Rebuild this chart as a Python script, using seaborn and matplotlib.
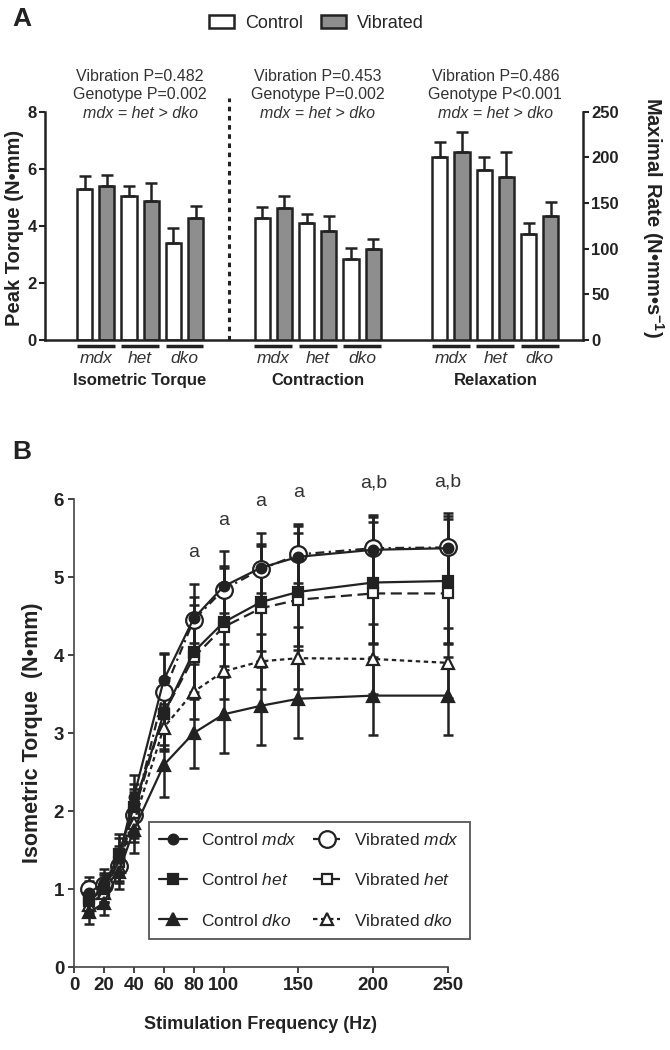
import numpy as np
import pandas as pd
import matplotlib
matplotlib.use("Agg")
import matplotlib.pyplot as plt
import matplotlib.transforms as mtransforms
import seaborn as sns

# ---------------- Panel A data ----------------
measures = ["Isometric Torque", "Contraction", "Relaxation"]
genotypes = ["mdx", "het", "dko"]
treatments = ["Control", "Vibrated"]

iso_ctrl = [5.29, 5.06, 3.39]
iso_ctrl_err = [0.44, 0.32, 0.55]
iso_vib = [5.41, 4.87, 4.29]
iso_vib_err = [0.37, 0.62, 0.39]

con_ctrl = [134, 128, 89]
con_ctrl_err = [12, 10, 12]
con_vib = [145, 119, 100]
con_vib_err = [13, 17, 11]

rel_ctrl = [200, 186, 116]
rel_ctrl_err = [17, 14, 12]
rel_vib = [206, 179, 136]
rel_vib_err = [22, 27, 15]

stats_text = [
    ("Vibration P=0.482", "Genotype P=0.002", "mdx = het > dko"),
    ("Vibration P=0.453", "Genotype P=0.002", "mdx = het > dko"),
    ("Vibration P=0.486", "Genotype P<0.001", "mdx = het > dko"),
]

# ---------------- Panel B data ----------------
freq = [10, 20, 30, 40, 60, 80, 100, 125, 150, 200, 250]

ctrl_mdx = [0.95, 1.08, 1.40, 2.18, 3.68, 4.47, 4.88, 5.12, 5.26, 5.35, 5.37]
vib_mdx = [1.00, 1.05, 1.30, 1.95, 3.52, 4.45, 4.84, 5.10, 5.29, 5.37, 5.38]
ctrl_het = [0.85, 1.00, 1.45, 2.05, 3.25, 4.04, 4.42, 4.68, 4.81, 4.93, 4.95]
vib_het = [0.88, 0.98, 1.35, 1.98, 3.25, 3.97, 4.36, 4.60, 4.71, 4.79, 4.79]
ctrl_dko = [0.70, 0.82, 1.22, 1.76, 2.59, 3.00, 3.24, 3.35, 3.44, 3.48, 3.48]
vib_dko = [0.80, 0.95, 1.28, 1.85, 3.07, 3.53, 3.79, 3.92, 3.96, 3.95, 3.90]

ctrl_mdx_err = [0.15, 0.18, 0.25, 0.28, 0.35, 0.44, 0.45, 0.45, 0.42, 0.45, 0.45]
vib_mdx_err = [0.15, 0.15, 0.20, 0.30, 0.50, 0.30, 0.30, 0.30, 0.36, 0.40, 0.40]
ctrl_het_err = [0.15, 0.18, 0.25, 0.30, 0.40, 0.60, 0.70, 0.75, 0.75, 0.78, 0.80]
vib_het_err = [0.12, 0.15, 0.20, 0.30, 0.45, 0.45, 0.50, 0.55, 0.60, 0.65, 0.65]
ctrl_dko_err = [0.15, 0.15, 0.22, 0.30, 0.41, 0.45, 0.49, 0.50, 0.50, 0.50, 0.50]
vib_dko_err = [0.12, 0.12, 0.20, 0.25, 0.30, 0.35, 0.35, 0.35, 0.40, 0.45, 0.45]

sig_freq = [80, 100, 125, 150, 200, 250]
sig_labels = ["a", "a", "a", "a", "a,b", "a,b"]

# ---------------- style ----------------
sns.set_style("ticks")
plt.rcParams["font.family"] = ["Liberation Sans", "DejaVu Sans"]
plt.rcParams["mathtext.fontset"] = "custom"
plt.rcParams["mathtext.rm"] = "Liberation Sans"
plt.rcParams["mathtext.it"] = "Liberation Sans:italic"
plt.rcParams["mathtext.bf"] = "Liberation Sans:bold"
ink = "#222222"
txt = "#333333"

fig = plt.figure(figsize=(6.7, 10.5), dpi=100)

# ================= Panel A =================
bar_vals = {
    "Isometric Torque": (iso_ctrl, iso_ctrl_err, iso_vib, iso_vib_err),
    "Contraction": (con_ctrl, con_ctrl_err, con_vib, con_vib_err),
    "Relaxation": (rel_ctrl, rel_ctrl_err, rel_vib, rel_vib_err),
}
rows = []
for mi, m in enumerate(measures):
    c, ce, v, ve = bar_vals[m]
    for gi, g in enumerate(genotypes):
        center = mi * 8 + gi * 2 + 0.5
        rows.append(dict(measure=m, genotype=g, treatment="Control", center=center,
                         pos=center - 0.5, value=c[gi], err=ce[gi]))
        rows.append(dict(measure=m, genotype=g, treatment="Vibrated", center=center,
                         pos=center + 0.5, value=v[gi], err=ve[gi]))
df = pd.DataFrame(rows)
iso = df[df.measure == "Isometric Torque"]
rate = df[df.measure != "Isometric Torque"]

axa = fig.add_axes([0.0672, 0.6762, 0.8030, 0.2174])
ax2 = axa.twinx()
bar_colors = {"Control": "white", "Vibrated": "#8e8e8e"}

sns.barplot(data=iso, x="center", y="value", hue="treatment", hue_order=treatments,
            palette=bar_colors, native_scale=True, width=1.0, gap=0.32,
            edgecolor=ink, linewidth=1.8, errorbar=None, ax=axa, legend=True)
sns.barplot(data=rate, x="center", y="value", hue="treatment", hue_order=treatments,
            palette=bar_colors, native_scale=True, width=1.0, gap=0.32,
            edgecolor=ink, linewidth=1.8, errorbar=None, ax=ax2, legend=False)

ekw = dict(fmt="none", ecolor=ink, elinewidth=1.8, capsize=4, capthick=1.8, zorder=3)
axa.errorbar(iso.pos, iso.value, yerr=[np.zeros(len(iso)), iso.err], **ekw)
ax2.errorbar(rate.pos, rate.value, yerr=[np.zeros(len(rate)), rate.err], **ekw)

axa.set_ylim(0, 8)
ax2.set_ylim(0, 250)
axa.set_yticks([0, 2, 4, 6, 8])
ax2.set_yticks([0, 50, 100, 150, 200, 250])
axa.set_xlim(-1.78, 22.45)
axa.set_xticks([])
axa.set_xlabel("")
axa.set_ylabel("")
ax2.set_ylabel("")
for a in (axa, ax2):
    a.tick_params(axis="y", direction="out", length=4, width=1.5, labelsize=12,
                  colors=ink, pad=2)
    for s in a.spines.values():
        s.set_linewidth(1.8)
        s.set_color(ink)
    a.spines["top"].set_visible(False)
for lbl in axa.get_yticklabels() + ax2.get_yticklabels():
    lbl.set_fontweight("bold")
axa.spines["right"].set_visible(False)
ax2.spines["left"].set_visible(False)
ax2.spines["bottom"].set_visible(False)

handles, labels = axa.get_legend_handles_labels()
axa.get_legend().remove()
fig.legend(handles, labels, loc="center", bbox_to_anchor=(0.472, 0.978), ncol=2,
           frameon=False, fontsize=13, handlelength=1.4, handleheight=0.75,
           columnspacing=1.0, handletextpad=0.6)

blend = mtransforms.blended_transform_factory(axa.transData, axa.transAxes)
centers = df.groupby(["measure", "genotype"], sort=False)["center"].first()
for (m, g), c in centers.items():
    axa.plot([c - 0.85, c + 0.85], [-0.026, -0.026], transform=blend, clip_on=False,
             color=ink, lw=2.5, solid_capstyle="butt")
    axa.text(c, -0.083, g, transform=blend, ha="center", va="center",
             fontsize=12.5, style="italic", color=txt)
for mi, m in enumerate(measures):
    mc = df[df.measure == m].center.mean()
    axa.text(mc, -0.178, m, transform=blend, ha="center", va="center",
             fontsize=12, fontweight="bold", color=ink)
    l1, l2, l3 = stats_text[mi]
    axa.text(mc, 1.156, l1, transform=blend, ha="center", va="center", fontsize=11.5, color=txt)
    axa.text(mc, 1.075, l2, transform=blend, ha="center", va="center", fontsize=11.5, color=txt)
    axa.text(mc, 0.994, l3, transform=blend, ha="center", va="center", fontsize=11.5,
             style="italic", color=txt)

sep_x = (df[df.measure == measures[0]].pos.max() + df[df.measure == measures[1]].pos.min()) / 2
axa.plot([sep_x, sep_x], [0, 1.06], transform=blend, clip_on=False, color=ink,
         lw=2.2, linestyle=(0, (1.5, 1.5)))

fig.text(0.022, 0.783, "Peak Torque (N•mm)", rotation=90, ha="center", va="center",
         fontsize=14.5, fontweight="bold", color=ink)
fig.text(0.975, 0.793, r"Maximal Rate (N•mm•s$^{\mathbf{-1}}$)", rotation=270,
         ha="center", va="center", fontsize=14.5, fontweight="bold", color=ink)
fig.text(0.018, 0.982, "A", fontsize=19, fontweight="bold", va="center", color=ink)

# ================= Panel B =================
axb = fig.add_axes([0.1104, 0.0790, 0.5583, 0.4457])

series = [
    ("Control $\\mathit{mdx}$", ctrl_mdx, ctrl_mdx_err),
    ("Control $\\mathit{het}$", ctrl_het, ctrl_het_err),
    ("Control $\\mathit{dko}$", ctrl_dko, ctrl_dko_err),
    ("Vibrated $\\mathit{mdx}$", vib_mdx, vib_mdx_err),
    ("Vibrated $\\mathit{het}$", vib_het, vib_het_err),
    ("Vibrated $\\mathit{dko}$", vib_dko, vib_dko_err),
]
styles = [
    dict(marker="o", markersize=7, markerfacecolor=ink, linestyle="-", zorder=5),
    dict(marker="s", markersize=7, markerfacecolor=ink, linestyle="-", zorder=5),
    dict(marker="^", markersize=8, markerfacecolor=ink, linestyle="-", zorder=5),
    dict(marker="o", markersize=12, markerfacecolor="white", linestyle=(0, (4, 2, 1, 2)), zorder=3),
    dict(marker="s", markersize=7.5, markerfacecolor="white", linestyle=(0, (5, 2.5)), zorder=3),
    dict(marker="^", markersize=9, markerfacecolor="white", linestyle=(0, (2, 1.6)), zorder=3),
]

for (name, vals, err), st in zip(series, styles):
    axb.errorbar(freq, vals, yerr=err, fmt="none", ecolor=ink, elinewidth=1.8,
                 capsize=3.5, capthick=1.8, zorder=2, clip_on=False)
    sns.lineplot(x=freq, y=vals, ax=axb, color=ink, linewidth=1.6, label=name,
                 markeredgecolor=ink, markeredgewidth=1.6, clip_on=False,
                 errorbar=None, **st)

upper = np.max([np.array(v) + np.array(e) for _, v, e in series], axis=0)
for f, lab in zip(sig_freq, sig_labels):
    axb.text(f, upper[freq.index(f)] + 0.4, lab, ha="center", va="center",
             fontsize=14, color=txt)

axb.set_xlim(0, 250)
axb.set_ylim(0, 6)
axb.set_xticks([0, 20, 40, 60, 80, 100, 150, 200, 250])
axb.set_yticks([0, 1, 2, 3, 4, 5, 6])
axb.tick_params(direction="out", length=4, width=1.2, labelsize=13.5, colors=ink, pad=3)
for lbl in axb.get_xticklabels() + axb.get_yticklabels():
    lbl.set_fontweight("bold")
sns.despine(ax=axb)
for s in ("left", "bottom"):
    axb.spines[s].set_linewidth(1.2)
    axb.spines[s].set_color("#444444")
axb.set_xlabel("Stimulation Frequency (Hz)", fontsize=13, fontweight="bold", color=ink,
               labelpad=16)
axb.set_ylabel("Isometric Torque  (N•mm)", fontsize=15.5, fontweight="bold", color=ink,
               labelpad=8)

h, l = axb.get_legend_handles_labels()
leg = axb.legend(h, l, ncol=2, loc="lower left", bbox_to_anchor=(0.2, 0.06),
                 frameon=True, fancybox=False, edgecolor="#555555", framealpha=1,
                 fontsize=12.5, handlelength=1.6, handletextpad=0.8, columnspacing=0.9,
                 labelspacing=1.4, borderpad=0.6, borderaxespad=0)
leg.get_frame().set_linewidth(1.3)

fig.text(0.018, 0.5695, "B", fontsize=19, fontweight="bold", va="center", color=ink)

fig.savefig("out.png", dpi=100)
